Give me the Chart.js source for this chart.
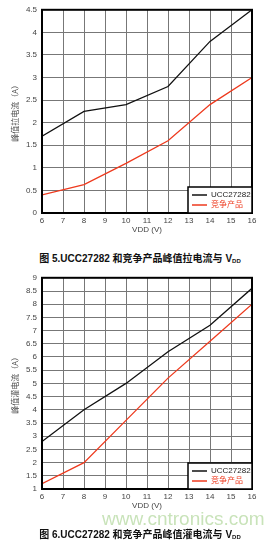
<!DOCTYPE html>
<html>
<head>
<meta charset="utf-8">
<script src="https://cdn.jsdelivr.net/npm/chart.js@4"></script>
<style>
  body { margin: 0; background: #fff; width: 280px; height: 540px; position: relative; overflow: hidden; font-family: "Liberation Sans", Arial, sans-serif; }
  .box { position: absolute; left: 0; width: 280px; }
  .cap { position: absolute; left: 0; width: 280px; text-align: center; font-weight: bold; font-size: 10px; color: #111; font-family: "Liberation Sans", "Noto Sans CJK SC", sans-serif; }
  .cap sub { font-size: 6px; vertical-align: -1px; }
  .wm { position: absolute; left: 102px; top: 508px; font-size: 19px; color: #9ccc80; opacity: 0.55; font-family: "Liberation Sans", sans-serif; }
</style>
</head>
<body>
<div class="box" style="top:0;height:240px"><canvas id="c1"></canvas></div>
<div class="cap" style="top:250px">图 5.UCC27282 和竞争产品峰值拉电流与 V<sub>DD</sub></div>
<div class="box" style="top:268px;height:250px"><canvas id="c2"></canvas></div>
<div class="wm">www.cntronics.com</div>
<div class="cap" style="top:526px">图 6.UCC27282 和竞争产品峰值灌电流与 V<sub>DD</sub></div>
<script>
const vdd = [6, 8, 10, 12, 14, 16];
const seriesNames = ["UCC27282", "竞争产品"];
const sourceUcc = [1.7, 2.25, 2.4, 2.8, 3.8, 4.5];
const sourceComp = [0.4, 0.63, 1.1, 1.6, 2.4, 3.0];
const sinkUcc = [2.8, 4.0, 5.0, 6.2, 7.2, 8.6];
const sinkComp = [1.2, 2.0, 3.6, 5.2, 6.6, 8.0];

const lineColors = ["#111111", "#ee3a1e"];

// frame + legend box inside the plot area
const framePlugin = {
  id: "frame",
  afterDatasetsDraw(chart) {
    const a = chart.chartArea;
    const c = chart.ctx;
    c.save();
    c.strokeStyle = "#000";
    c.lineWidth = 2;
    c.strokeRect(a.left, a.top, a.right - a.left, a.bottom - a.top);
    const w = 64, h = 26;
    const x = a.right - w, y = a.bottom - h;
    c.fillStyle = "#fff";
    c.fillRect(x, y, w, h);
    c.lineWidth = 1.5;
    c.strokeRect(x, y, w, h);
    c.font = "8px 'Liberation Sans', 'Noto Sans CJK SC', sans-serif";
    c.textBaseline = "middle";
    seriesNames.forEach((n, i) => {
      const ly = y + 8 + i * 10;
      c.strokeStyle = lineColors[i];
      c.lineWidth = 1.5;
      c.beginPath();
      c.moveTo(x + 4, ly);
      c.lineTo(x + 19, ly);
      c.stroke();
      c.fillStyle = i === 0 ? "#222" : "#ee3a1e";
      c.fillText(n, x + 23, ly);
    });
    c.restore();
  }
};

function makeChart(id, a, b, ymin, ymax, yTitle, padTop, xHeight, padBottom) {
  return new Chart(document.getElementById(id), {
    type: "line",
    data: {
      datasets: [
        { label: seriesNames[0], data: vdd.map((v, i) => ({ x: v, y: a[i] })), borderColor: lineColors[0], borderWidth: 1.3, pointRadius: 0, tension: 0 },
        { label: seriesNames[1], data: vdd.map((v, i) => ({ x: v, y: b[i] })), borderColor: lineColors[1], borderWidth: 1.3, pointRadius: 0, tension: 0 }
      ]
    },
    options: {
      responsive: true,
      maintainAspectRatio: false,
      animation: false,
      layout: { padding: { top: padTop, right: 28, left: 0, bottom: padBottom } },
      plugins: { legend: { display: false }, tooltip: { enabled: false } },
      scales: {
        x: {
          type: "linear", min: 6, max: 16,
          ticks: { stepSize: 1, color: "#444", font: { size: 8 }, padding: 3 },
          grid: { color: "#777", lineWidth: 1, drawTicks: false },
          border: { display: false },
          title: { display: true, text: "VDD (V)", color: "#444", font: { size: 8 }, padding: 0 },
          afterFit(s) { s.height = xHeight; }
        },
        y: {
          min: ymin, max: ymax,
          ticks: { stepSize: 0.5, color: "#444", font: { size: 8 }, padding: 5, callback: v => String(+v.toFixed(1)) },
          grid: { color: "#777", lineWidth: 1, drawTicks: false },
          border: { display: false },
          title: { display: true, text: yTitle, color: "#555", font: { size: 8, family: "'Noto Sans CJK SC', sans-serif" }, padding: { top: 10, bottom: 0 } },
          afterFit(s) { s.width = 42; }
        }
      }
    },
    plugins: [framePlugin]
  });
}

makeChart("c1", sourceUcc, sourceComp, 0, 4.5, "峰值拉电流（A）", 6, 22, 5);
makeChart("c2", sinkUcc, sinkComp, 1, 9, "峰值灌电流（A）", 9, 22, 7);
</script>
</body>
</html>
